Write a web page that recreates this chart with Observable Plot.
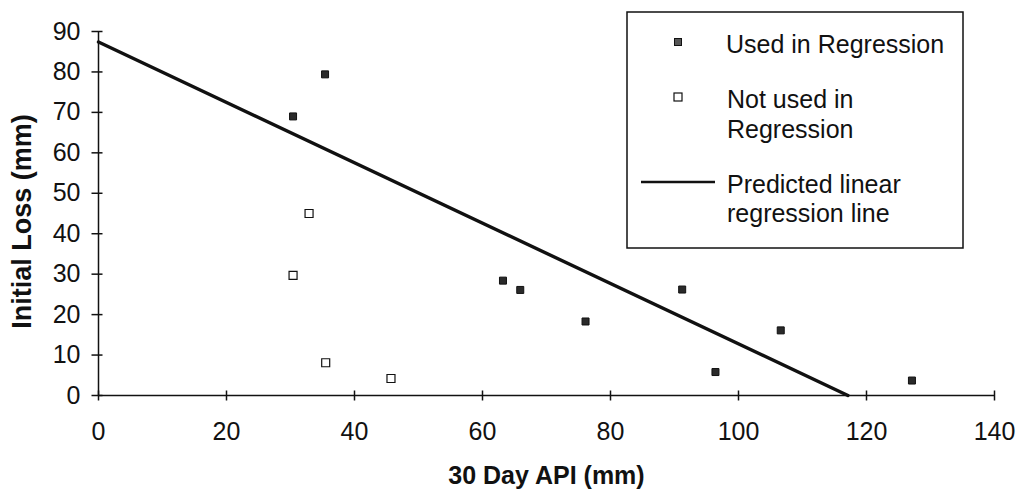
<!DOCTYPE html>
<html>
<head>
<meta charset="utf-8">
<script src="https://cdn.jsdelivr.net/npm/d3@7"></script>
<script src="https://cdn.jsdelivr.net/npm/@observablehq/plot@0.6"></script>
<style>
  html, body { margin: 0; padding: 0; background: #fff; }
  #wrap { position: relative; width: 1018px; height: 489px; font-family: "Liberation Sans", Arial, sans-serif; }
  #legend { position: absolute; left: 0; top: 0; pointer-events: none; }
</style>
</head>
<body>
<div id="wrap"></div>
<script>
// ---- data ----
const xTicks = [0, 20, 40, 60, 80, 100, 120, 140];
const yTicks = [0, 10, 20, 30, 40, 50, 60, 70, 80, 90];

const usedX = [30.4, 35.4, 63.2, 65.9, 76.1, 91.2, 96.4, 106.6, 127.1];
const usedY = [69.0, 79.4, 28.4, 26.1, 18.3, 26.2, 5.8, 16.1, 3.7];

const notUsedX = [30.4, 32.9, 35.5, 45.7];
const notUsedY = [29.7, 45.0, 8.1, 4.2];

const regX = [0, 117.1];
const regY = [87.4, 0];

const xLabel = "30 Day API (mm)";
const yLabel = "Initial Loss (mm)";
const legendLabels = ["Used in Regression", ["Not used in", "Regression"], ["Predicted linear", "regression line"]];

// ---- build tables ----
const used = usedX.map((x, i) => ({x, y: usedY[i]}));
const notUsed = notUsedX.map((x, i) => ({x, y: notUsedY[i]}));
const reg = regX.map((x, i) => ({x, y: regY[i]}));

const vtick = {draw(ctx) { ctx.moveTo(0, -5); ctx.lineTo(0, 5); }};
const htick = {draw(ctx) { ctx.moveTo(-7, 0); ctx.lineTo(4, 0); }};
const sqFilled = {draw(ctx) { ctx.rect(-3.5, -3.5, 7, 7); }};
const sqOpen = {draw(ctx) { ctx.rect(-4, -4, 8, 8); }};

const font = '"Liberation Sans", Arial, sans-serif';

const chart = Plot.plot({
  width: 1018,
  height: 489,
  marginLeft: 98,
  marginRight: 24,
  marginTop: 31,
  marginBottom: 94,
  style: {fontFamily: font, fontSize: "24px", color: "#111", background: "#fff"},
  x: {domain: [0, 140]},
  y: {domain: [0, 90]},
  marks: [
    Plot.axisX({ticks: xTicks, tickSize: 0, tickPadding: 27, label: null, fontSize: 25, tickFormat: d => String(d)}),
    Plot.axisY({ticks: yTicks, tickSize: 0, tickPadding: 18, label: null, fontSize: 25, tickFormat: d => String(d)}),
    Plot.ruleY([0], {x1: 0, x2: 140, stroke: "#111", strokeWidth: 1.5}),
    Plot.ruleX([0], {y1: 0, y2: 90, stroke: "#111", strokeWidth: 1.5}),
    Plot.dot(xTicks, {x: d => d, y: 0, symbol: vtick, stroke: "#111", strokeWidth: 1.5, fill: "none"}),
    Plot.dot(yTicks, {x: 0, y: d => d, symbol: htick, stroke: "#111", strokeWidth: 1.5, fill: "none"}),
    Plot.line(reg, {x: "x", y: "y", stroke: "#111", strokeWidth: 3.4}),
    Plot.dot(used, {x: "x", y: "y", symbol: sqFilled, fill: "#2a2a2a", stroke: "#111", strokeWidth: 1}),
    Plot.dot(notUsed, {x: "x", y: "y", symbol: sqOpen, fill: "#fff", stroke: "#111", strokeWidth: 1.2}),
    Plot.text([xLabel], {text: d => d, frameAnchor: "bottom", textAnchor: "middle", lineAnchor: "middle", dy: 80, fontWeight: "bold", fontSize: 25, fill: "#111"}),
    Plot.text([yLabel], {text: d => d, frameAnchor: "left", textAnchor: "middle", dx: -76, dy: 8, rotate: -90, fontWeight: "bold", fontSize: 27, fill: "#111"})
  ]
});

const wrap = document.getElementById("wrap");
wrap.appendChild(chart);

// ---- legend overlay ----
const ns = "http://www.w3.org/2000/svg";
const lg = document.createElementNS(ns, "svg");
lg.setAttribute("id", "legend");
lg.setAttribute("width", 1018);
lg.setAttribute("height", 489);
lg.innerHTML = `
  <rect x="627" y="12" width="336" height="236" fill="#fff" stroke="#111" stroke-width="1.5"/>
  <rect x="674.5" y="38.5" width="7" height="7" fill="#555" stroke="#111" stroke-width="1"/>
  <rect x="674" y="93" width="8" height="8" fill="#fff" stroke="#111" stroke-width="1.2"/>
  <line x1="641" y1="182" x2="715" y2="182" stroke="#111" stroke-width="2.5"/>
`;
const g = document.createElementNS(ns, "g");
g.setAttribute("font-family", font);
g.setAttribute("font-size", "25");
g.setAttribute("fill", "#111");
const items = [
  [legendLabels[0], 726, 53],
  [legendLabels[1][0], 727, 108],
  [legendLabels[1][1], 727, 138],
  [legendLabels[2][0], 727, 193],
  [legendLabels[2][1], 727, 222]
];
for (const [t, x, y] of items) {
  const el = document.createElementNS(ns, "text");
  el.setAttribute("x", x);
  el.setAttribute("y", y);
  el.textContent = t;
  g.appendChild(el);
}
lg.appendChild(g);
wrap.appendChild(lg);
</script>
</body>
</html>
